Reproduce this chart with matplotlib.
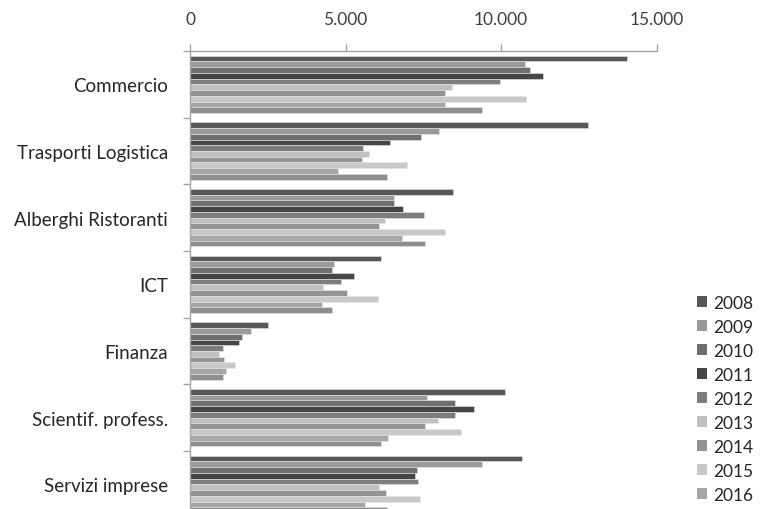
import matplotlib
matplotlib.use("Agg")
import matplotlib.pyplot as plt
import numpy as np
from matplotlib.patches import Patch

plt.rcParams['font.family'] = ['Lato', 'DejaVu Sans']

categories = ["Commercio", "Trasporti Logistica", "Alberghi Ristoranti", "ICT",
              "Finanza", "Scientif. profess.", "Servizi imprese"]
years = ["2008", "2009", "2010", "2011", "2012", "2013", "2014", "2015", "2016", "2017"]

v2008 = [14040, 12800, 8460, 6130, 2500, 10120, 10670]
v2009 = [10770, 8010, 6550, 4640, 1970, 7620, 9380]
v2010 = [10930, 7430, 6550, 4560, 1670, 8530, 7300]
v2011 = [11360, 6420, 6840, 5270, 1590, 9120, 7230]
v2012 = [9960, 5570, 7530, 4860, 1060, 8530, 7330]
v2013 = [8410, 5760, 6260, 4280, 930, 7970, 6080]
v2014 = [8180, 5520, 6060, 5030, 1090, 7550, 6290]
v2015 = [10800, 6960, 8200, 6030, 1460, 8700, 7390]
v2016 = [8180, 4760, 6800, 4240, 1160, 6350, 5640]
v2017 = [9370, 6320, 7550, 4580, 1060, 6130, 6320]
series = [v2008, v2009, v2010, v2011, v2012, v2013, v2014, v2015, v2016, v2017]

colors = ["#585858", "#9a9a9a", "#6f6f6f", "#464646", "#7d7d7d",
          "#c0c0c0", "#949494", "#c8c8c8", "#a6a6a6", "#8e8e8e"]

fig = plt.figure(figsize=(7.6, 5.1), dpi=100)
ax = fig.add_axes([190/760, (510-518.7)/510, 466.7/760, 466.7/510])

n = len(series)
group = 0.86
bh = group / n
y = np.arange(len(categories))
for i, (vals, c) in enumerate(zip(series, colors)):
    ax.barh(y - group/2 + (i + 0.5) * bh, vals, height=bh, color=c,
            edgecolor='#e6e6e6', linewidth=0.4)

ax.set_xlim(0, 15000)
ax.set_ylim(len(categories) - 0.5, -0.5)
ax.xaxis.tick_top()
ax.set_xticks([0, 5000, 10000, 15000])
ax.set_xticklabels(["0", "5.000", "10.000", "15.000"])
ax.tick_params(axis='x', which='major', direction='out', length=5, width=1,
               color='#a6a6a6', pad=12, labelsize=12.5, labelcolor='#404040')

ax.set_yticks(np.arange(-0.5, len(categories) + 0.5, 1.0))
ax.set_yticklabels([])
ax.set_yticks(y, minor=True)
ax.set_yticklabels(categories, minor=True)
ax.tick_params(axis='y', which='major', direction='out', length=5, width=1, color='#a6a6a6')
ax.tick_params(axis='y', which='minor', length=0, pad=16, labelsize=13.5, labelcolor='#262626')

for s in ['right', 'bottom']:
    ax.spines[s].set_visible(False)
for s in ['top', 'left']:
    ax.spines[s].set_color('#a6a6a6')
    ax.spines[s].set_linewidth(1)

handles = [Patch(facecolor=c, edgecolor='none') for c in colors[:9]]
leg = fig.legend(handles, years[:9], loc='upper left', bbox_to_anchor=(697/760, 1 - 296/510),
                 frameon=False, fontsize=12.5, handlelength=0.6, handleheight=0.6,
                 handletextpad=0.35, labelspacing=0.46, borderaxespad=0, borderpad=0)
for t in leg.get_texts():
    t.set_color('#262626')

fig.savefig("out.png", dpi=100)
